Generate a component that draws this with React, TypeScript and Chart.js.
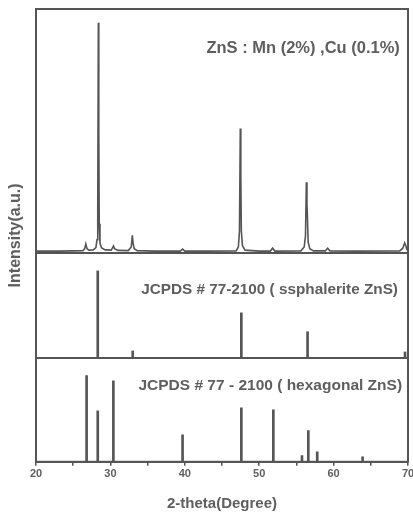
import { useEffect, useRef } from "react";
import { Chart, registerables } from "chart.js";

Chart.register(...registerables);

// ---- data ----
const xrdAngles = [
  20, 23, 25, 26.3, 26.55, 26.7, 26.85, 27.1, 27.7, 28.05, 28.2, 28.3, 28.38, 28.44, 28.5, 28.6, 28.8, 29.3,
  30.1, 30.3, 30.42, 30.55, 31, 32.4, 32.8, 32.95, 33.05, 33.2, 33.6, 36, 39.4, 39.7, 40, 43,
  46.9, 47.2, 47.35, 47.46, 47.53, 47.6, 47.75, 48.1, 50, 51.5, 51.8, 52.1,
  55.6, 56.05, 56.22, 56.34, 56.42, 56.48, 56.58, 56.8, 57.3, 58.9, 59.2, 59.5, 63, 68.9, 69.3, 69.55, 69.7, 69.85, 70,
];
const xrdIntensity = [
  0.8, 0.8, 0.9, 1.0, 1.8, 3.7, 1.8, 1.2, 1.3, 2.2, 5.5, 18, 94.4, 50, 12, 4, 2.2, 1.3,
  1.2, 2.2, 2.9, 1.8, 1.1, 1.0, 2.5, 7.3, 4, 1.8, 1.0, 0.8, 0.8, 1.6, 0.8, 0.8,
  0.9, 2.5, 9, 51, 32, 9, 3, 1.2, 0.8, 0.8, 2.0, 0.8,
  0.9, 2.5, 7, 29, 20, 15, 4.5, 1.8, 0.9, 0.9, 2.0, 0.9, 0.8, 0.9, 2, 4.1, 3, 1.5, 1.2,
];
const sphaleriteAngles = [28.3, 33.0, 47.6, 56.5, 69.6];
const sphaleriteIntensity = [83, 6.7, 43, 25, 5.7];
const hexagonalAngles = [26.8, 28.3, 30.4, 39.7, 47.6, 51.9, 55.75, 56.6, 57.8, 63.9];
const hexagonalIntensity = [83, 49, 78, 26, 52, 50, 6, 30, 9.6, 4.8];

const xMin = 20;
const xMax = 70;
const xStep = 5;
const xLabelEvery = 10;

const panelLabels = [
  "ZnS : Mn (2%) ,Cu (0.1%)",
  "JCPDS # 77-2100 ( ssphalerite ZnS)",
  "JCPDS # 77 - 2100 ( hexagonal ZnS)",
];
const xTitle = "2-theta(Degree)";
const yTitle = "Intensity(a.u.)";

// ---- styling ----
const FONT = '"Liberation Sans", Arial, sans-serif';
const INK = "#555555";
const TEXT = "#5e5e5e";

// annotation anchors in data units: [x (right edge), axis id, y (middle), font size]
const labelAnchors: [number, string, number, number][] = [
  [68.9, "yXrd", 84, 16.5],
  [68.65, "ySph", 65, 15.3],
  [69.2, "yHex", 73, 15.5],
];

const framePlugin = {
  id: "frameAndLabels",
  afterDraw(chart: any) {
    const { ctx, chartArea: a, scales } = chart;
    ctx.save();
    ctx.strokeStyle = INK;
    ctx.lineWidth = 2;
    ctx.strokeRect(a.left, a.top, a.right - a.left, a.bottom - a.top);
    [scales.yXrd.bottom, scales.ySph.bottom].forEach((y: number) => {
      ctx.beginPath();
      ctx.moveTo(a.left, y);
      ctx.lineTo(a.right, y);
      ctx.stroke();
    });
    ctx.fillStyle = TEXT;
    ctx.textAlign = "right";
    ctx.textBaseline = "middle";
    labelAnchors.forEach(([xv, axis, yv, size], i) => {
      ctx.font = `bold ${size}px ${FONT}`;
      ctx.fillText(panelLabels[i], scales.x.getPixelForValue(xv), scales[axis].getPixelForValue(yv));
    });
    ctx.restore();
  },
};

const hiddenY = (weight: number) => ({
  type: "linear" as const,
  position: "left" as const,
  stack: "xrd",
  stackWeight: weight,
  min: 0,
  max: 100,
  ticks: { display: false },
  grid: { display: false },
  border: { display: false },
  afterFit: (s: any) => {
    s.width = 0;
  },
});

export default function App() {
  const ref = useRef<HTMLCanvasElement | null>(null);

  useEffect(() => {
    document.body.style.margin = "0";
    Chart.defaults.font.family = FONT;
    const chart = new Chart(ref.current as HTMLCanvasElement, {
      type: "line",
      data: {
        datasets: [
          {
            type: "line",
            label: "XRD",
            data: xrdAngles.map((x, i) => ({ x, y: xrdIntensity[i] })),
            yAxisID: "yXrd",
            borderColor: INK,
            borderWidth: 1.6,
            pointRadius: 0,
            tension: 0,
          },
          {
            type: "bar",
            label: "sphalerite",
            data: sphaleriteAngles.map((x, i) => ({ x, y: sphaleriteIntensity[i] })),
            yAxisID: "ySph",
            backgroundColor: INK,
            barThickness: 2,
            grouped: false,
          } as any,
          {
            type: "bar",
            label: "hexagonal",
            data: hexagonalAngles.map((x, i) => ({ x, y: hexagonalIntensity[i] })),
            yAxisID: "yHex",
            backgroundColor: INK,
            barThickness: 2,
            grouped: false,
          } as any,
        ],
      },
      options: {
        animation: false,
        responsive: true,
        maintainAspectRatio: false,
        layout: { padding: { top: 9, right: 5, bottom: 0, left: 1.5 } },
        plugins: { legend: { display: false }, tooltip: { enabled: false } },
        scales: {
          x: {
            type: "linear",
            min: xMin,
            max: xMax,
            offset: false,
            ticks: {
              stepSize: xStep,
              autoSkip: false,
              maxRotation: 0,
              padding: 2,
              color: TEXT,
              font: { size: 11, weight: "bold" },
              callback: (v: any) => (Number(v) % xLabelEvery === 0 ? String(v) : ""),
            },
            grid: { display: true, drawOnChartArea: false, drawTicks: true, tickLength: 4, color: INK, lineWidth: 1.5, offset: false },
            border: { display: true, color: INK, width: 2 },
            title: { display: true, text: xTitle, color: TEXT, font: { size: 15, weight: "bold" }, padding: { top: 12, bottom: 0 } },
            afterFit: (s: any) => {
              s.paddingRight = 0;
              s.paddingLeft = 0;
            },
          },
          yHex: hiddenY(1),
          ySph: hiddenY(1.01),
          yXrd: hiddenY(2.35),
          yTitle: {
            type: "linear",
            position: "left",
            min: 0,
            max: 1,
            ticks: { display: false },
            grid: { display: false },
            border: { display: false },
            title: { display: true, text: yTitle, color: TEXT, font: { size: 16, weight: "bold" }, padding: { top: 4, bottom: 3.3 } },
          },
        } as any,
      },
      plugins: [framePlugin],
    });
    return () => chart.destroy();
  }, []);

  return (
    <div style={{ position: "absolute", left: 0, top: 0, width: 413, height: 513 }}>
      <canvas ref={ref} />
    </div>
  );
}
